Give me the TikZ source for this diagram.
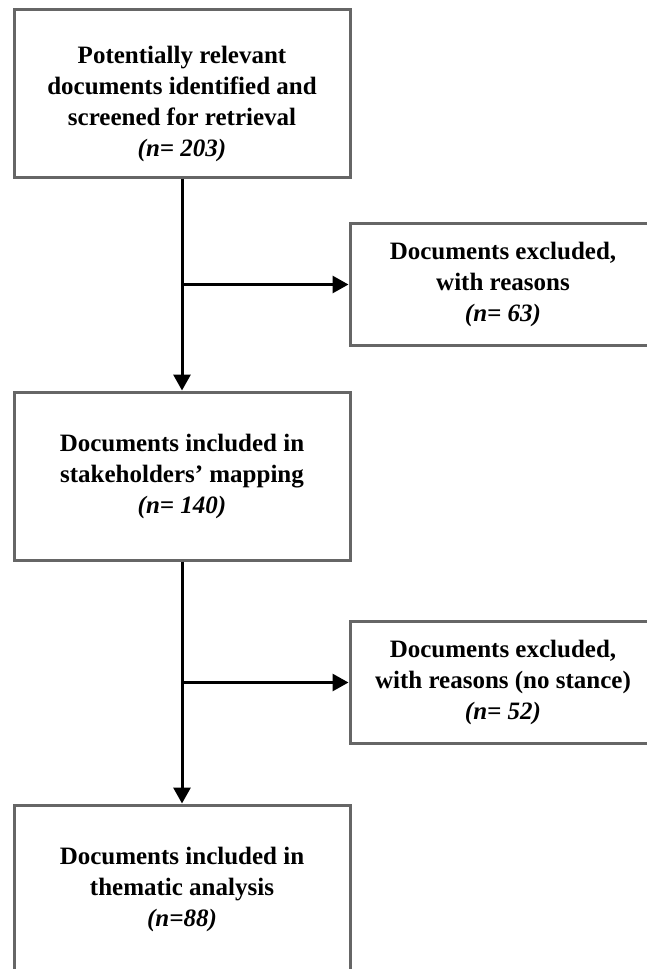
\documentclass[tikz,border=0pt]{standalone}
\usepackage{fontspec}
\setmainfont{Liberation Serif}
\usetikzlibrary{arrows.meta}

\begin{document}
\begin{tikzpicture}[x=1pt, y=-1pt,
    flow_box/.style={rectangle, draw=black!60, line width=3pt, align=center, inner sep=0pt,
        font=\bfseries\fontsize{25}{31}\selectfont},
    main_box/.style={flow_box, minimum width=336pt, minimum height=168pt},
    excl_box/.style={flow_box, minimum width=306pt, minimum height=122pt},
    flow_arrow/.style={line width=3pt, -{Triangle[length=16pt, width=17pt]}}]
    \useasboundingbox (0,0) rectangle (646,969);
    \node[main_box] (screened) at (182, 93) {\rule{0pt}{40pt}Potentially relevant\\documents identified and\\screened for retrieval\\\textit{(n= 203)}};
    \node[excl_box] (excl1) at (503, 284.5) {Documents excluded,\\with reasons\\\textit{(n= 63)}};
    \node[main_box] (mapping) at (182, 476) {Documents included in\\stakeholders' mapping\\\textit{(n= 140)}};
    \node[excl_box] (excl2) at (503, 682.5) {Documents excluded,\\with reasons (no stance)\\\textit{(n= 52)}};
    \node[main_box] (thematic) at (182, 889) {Documents included in\\thematic analysis\\\textit{(n=88)}};
    \coordinate (split1) at (screened.south |- excl1.west);
    \coordinate (split2) at (mapping.south |- excl2.west);
    \draw[flow_arrow] (screened) -- (mapping);
    \draw[flow_arrow] (split1) -- (excl1);
    \draw[flow_arrow] (mapping) -- (thematic);
    \draw[flow_arrow] (split2) -- (excl2);
\end{tikzpicture}
\end{document}
